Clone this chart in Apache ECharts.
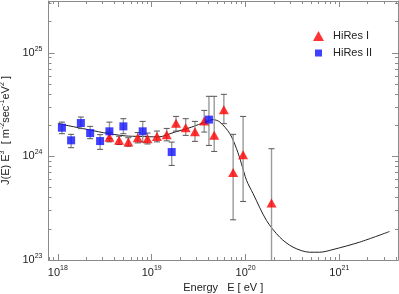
<!DOCTYPE html>
<html>
<head>
<meta charset="utf-8">
<script src="https://cdn.jsdelivr.net/npm/echarts@6/dist/echarts.min.js"></script>
<style>html,body{margin:0;padding:0;background:#fff}#c{width:399px;height:294px}</style>
</head>
<body>
<div id="c"></div>
<script>
// ---- data (log10 values) ----
const hiRes1LogE = [18.549, 18.652, 18.751, 18.851, 18.955, 19.056, 19.160, 19.259, 19.362, 19.461, 19.560, 19.666, 19.769, 19.868, 19.974, 20.277];
const hiRes1LogJ = [24.186, 24.155, 24.138, 24.179, 24.171, 24.193, 24.210, 24.319, 24.277, 24.237, 24.341, 24.203, 24.451, 23.845, 24.016, 23.549];
const hiRes1ErrLo = [24.140, 24.115, 24.098, 24.130, 24.120, 24.140, 24.150, 24.244, 24.203, 24.145, 24.235, 24.048, 24.316, 23.388, 23.565, 22.500];
const hiRes1ErrHi = [24.235, 24.195, 24.180, 24.230, 24.225, 24.245, 24.270, 24.386, 24.364, 24.338, 24.444, 24.580, 24.599, 24.213, 24.386, 24.074];

const hiRes2LogE = [18.043, 18.141, 18.245, 18.344, 18.450, 18.549, 18.698, 18.904, 19.213, 19.610];
const hiRes2LogJ = [24.277, 24.155, 24.322, 24.225, 24.148, 24.242, 24.290, 24.242, 24.042, 24.355];
const hiRes2ErrLo = [24.219, 24.084, 24.268, 24.171, 24.068, 24.171, 24.219, 24.138, 23.913, 24.106];
const hiRes2ErrHi = [24.331, 24.213, 24.380, 24.290, 24.210, 24.331, 24.364, 24.338, 24.138, 24.580];

const curveLogE = [18.0, 18.06, 18.272, 18.485, 18.716, 18.876, 19.07, 19.248, 19.426, 19.567, 19.655, 19.727, 19.833, 19.904, 19.957, 20.011, 20.081, 20.223, 20.365, 20.506, 20.684, 20.79, 20.932, 21.215, 21.535];
const curveLogJ = [24.32, 24.306, 24.268, 24.229, 24.198, 24.193, 24.188, 24.235, 24.283, 24.331, 24.355, 24.331, 24.219, 24.074, 23.929, 23.768, 23.640, 23.382, 23.220, 23.124, 23.075, 23.075, 23.101, 23.172, 23.275];

const xTickExp = [18, 19, 20, 21];
const yTickExp = [23, 24, 25];
const seriesNames = ['HiRes I', 'HiRes II'];

// ---- axis setup ----
const xMin = 17.9, xMax = 21.625, yMin = 23, yMax = 25.5;
function minorTicks(lo, hi) {
  const out = [];
  for (let d = Math.floor(lo) - 1; d <= Math.ceil(hi); d++) {
    for (let m = 2; m <= 9; m++) {
      const v = d + Math.log10(m);
      if (v > lo && v < hi) out.push(v);
    }
  }
  return out;
}
const axisColor = '#8a8a8a';
const richLbl = {
  a: { fontSize: 11, color: '#222', fontFamily: 'Liberation Sans' },
  s: { fontSize: 7, color: '#222', fontFamily: 'Liberation Sans', padding: [0, 0, 8, 0] }
};
function fmt(v) { return '{a|10}{s|' + Math.round(v) + '}'; }

function mkAxis(kind, pos, min, max, ticks, len, showLine, labels) {
  const ax = {
    type: 'value', position: pos, min: min, max: max,
    axisLine: { show: showLine, onZero: false, lineStyle: { color: axisColor, width: 1 } },
    axisTick: { show: true, inside: true, length: len, customValues: ticks, lineStyle: { color: axisColor } },
    axisLabel: labels ? { show: true, customValues: ticks, formatter: fmt, rich: richLbl, margin: kind === 'x' ? 5 : 6 } : { show: false },
    splitLine: { show: false }
  };
  return ax;
}

const xAxes = [
  Object.assign(mkAxis('x', 'bottom', xMin, xMax, xTickExp, 6, true, true), {
    name: 'Energy   E [ eV ]', nameLocation: 'middle', nameGap: 17,
    nameTextStyle: { fontSize: 11, color: '#222', fontFamily: 'Liberation Sans' }
  }),
  mkAxis('x', 'bottom', xMin, xMax, minorTicks(xMin, xMax), 3, false, false),
  mkAxis('x', 'top', xMin, xMax, xTickExp, 6, true, false),
  mkAxis('x', 'top', xMin, xMax, minorTicks(xMin, xMax), 3, false, false)
];
const yAxes = [
  Object.assign(mkAxis('y', 'left', yMin, yMax, yTickExp, 6, true, true), {
    name: '{n|J(E) E}{s|3}{n|  [ m}{s|-2}{n|sec}{s|-1}{n|eV}{s|2}{n| ]}',
    nameLocation: 'middle', nameGap: 35, nameRotate: 90,
    nameTextStyle: {
      rich: {
        n: { fontSize: 11, color: '#222', fontFamily: 'Liberation Sans' },
        s: { fontSize: 7, color: '#222', fontFamily: 'Liberation Sans', padding: [0, 0, 8, 0] }
      }
    }
  }),
  mkAxis('y', 'left', yMin, yMax, minorTicks(yMin, yMax), 3, false, false),
  mkAxis('y', 'right', yMin, yMax, yTickExp, 6, true, false),
  mkAxis('y', 'right', yMin, yMax, minorTicks(yMin, yMax), 3, false, false)
];

function errData(xs, lo, hi) { return xs.map((x, i) => [x, lo[i], hi[i]]); }
function errRender(params, api) {
  const x = api.value(0), lo = api.value(1), hi = api.value(2);
  const pHi = api.coord([x, hi]);
  const pLo = api.coord([x, Math.max(lo, yMin)]);
  const children = [
    { type: 'line', shape: { x1: pHi[0], y1: pHi[1], x2: pLo[0], y2: pLo[1] }, style: { stroke: '#9a9a9a', lineWidth: 1.4 } },
    { type: 'line', shape: { x1: pHi[0] - 3, y1: pHi[1], x2: pHi[0] + 3, y2: pHi[1] }, style: { stroke: '#555', lineWidth: 1 } }
  ];
  if (lo > yMin) {
    children.push({ type: 'line', shape: { x1: pLo[0] - 3, y1: pLo[1], x2: pLo[0] + 3, y2: pLo[1] }, style: { stroke: '#555', lineWidth: 1 } });
  }
  return { type: 'group', children: children };
}

const chart = echarts.init(document.getElementById('c'), null, { renderer: 'canvas' });
chart.setOption({
  backgroundColor: '#fff',
  animation: false,
  textStyle: { fontFamily: 'Liberation Sans' },
  grid: { left: 48.5, right: 1, top: 1, bottom: 34, containLabel: false, outerBoundsMode: 'none' },
  xAxis: xAxes,
  yAxis: yAxes,
  legend: {
    data: [
      { name: seriesNames[0], icon: 'triangle', itemStyle: { color: '#ff0000' } },
      { name: seriesNames[1], icon: 'path://M0,0M10,10M1.5,1.5h7v7h-7z', itemStyle: { color: '#1010ff' } }
    ],
    orient: 'vertical', left: 308, top: 25,
    itemWidth: 11, itemHeight: 10, itemGap: 5,
    textStyle: { fontSize: 11, color: '#222', fontFamily: 'Liberation Sans', padding: [0, 0, 0, 4], lineHeight: 12 }
  },
  series: [
    {
      type: 'line', name: 'model', data: curveLogE.map((x, i) => [x, curveLogJ[i]]),
      smooth: 0.3, showSymbol: false, symbol: 'none',
      lineStyle: { color: '#222', width: 1 }, z: 1
    },
    { type: 'custom', name: 'err1', renderItem: errRender, data: errData(hiRes1LogE, hiRes1ErrLo, hiRes1ErrHi), z: 2, clip: true },
    { type: 'custom', name: 'err2', renderItem: errRender, data: errData(hiRes2LogE, hiRes2ErrLo, hiRes2ErrHi), z: 2, clip: true },
    {
      type: 'scatter', name: seriesNames[0], symbol: 'triangle', symbolSize: [10, 9],
      itemStyle: { color: '#ff0000' }, data: hiRes1LogE.map((x, i) => [x, hiRes1LogJ[i]]), z: 3
    },
    {
      type: 'scatter', name: seriesNames[1], symbol: 'rect', symbolSize: 8,
      itemStyle: { color: '#1010ff' }, data: hiRes2LogE.map((x, i) => [x, hiRes2LogJ[i]]), z: 3
    }
  ]
});
</script>
</body>
</html>
